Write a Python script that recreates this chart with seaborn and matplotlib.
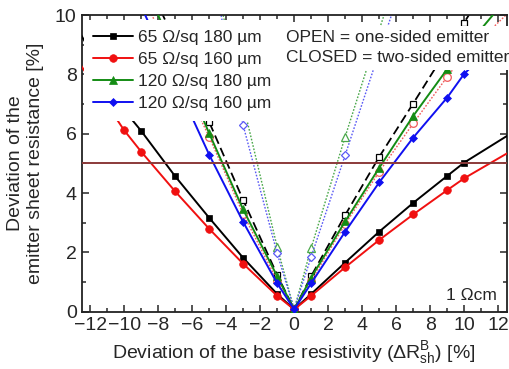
import numpy as np
import pandas as pd
import matplotlib
matplotlib.use("Agg")
import matplotlib.pyplot as plt
import seaborn as sns

sns.set_style("ticks")
plt.rcParams['font.family'] = ['Liberation Sans', 'DejaVu Sans']
plt.rcParams['mathtext.default'] = 'regular'

# ---- data ----
x_dev = [-13, -10, -9, -7, -5, -3, -1, 0, 1, 3, 5, 7, 9, 10, 13]

# closed (two-sided emitter), filled markers, solid lines
y_65_180 = [9.8, 6.8, 6.10, 4.57, 3.17, 1.82, 0.60, 0.08, 0.60, 1.66, 2.70, 3.67, 4.58, 5.03, 6.10]
y_65_160 = [8.7, 6.12, 5.40, 4.06, 2.80, 1.62, 0.54, 0.08, 0.54, 1.50, 2.42, 3.28, 4.10, 4.50, 5.50]
y_120_180 = [16.0, 12.6, 11.3, 8.7, 6.02, 3.45, 1.20, 0.08, 1.15, 3.05, 4.85, 6.60, 8.18, 8.85, 10.9]
y_120_160 = [14.5, 11.4, 10.3, 7.8, 5.30, 3.03, 0.96, 0.08, 0.96, 2.70, 4.36, 5.87, 7.22, 8.02, 9.70]

# open (one-sided emitter), open markers, dashed / dotted lines
yo_65_180 = [16.0, 12.8, 11.6, 9.1, 6.40, 3.77, 1.25, 0.08, 1.20, 3.26, 5.22, 7.02, 8.85, 9.75, 12.5]
yo_65_160 = [14.5, 11.8, 10.8, 8.3, 5.90, 3.30, 1.05, 0.08, 1.05, 2.95, 4.72, 6.35, 7.92, 8.65, 10.3]
yo_120_180 = [30.0, 24.0, 22.0, 17.0, 12.1, 7.00, 2.19, 0.08, 2.15, 5.90, 9.50, 13.0, 16.5, 18.2, 24.0]
yo_120_160 = [28.0, 22.0, 20.0, 16.0, 12.0, 6.29, 1.97, 0.08, 1.85, 5.28, 8.75, 12.2, 15.6, 17.3, 22.5]

labels = ["65 \u03a9/sq 180 \u00b5m", "65 \u03a9/sq 160 \u00b5m",
          "120 \u03a9/sq 180 \u00b5m", "120 \u03a9/sq 160 \u00b5m"]
threshold = 5.0
x_ticks = list(range(-12, 13, 2))
y_ticks = [0, 2, 4, 6, 8, 10]

colors = ["#000000", "#f01010", "#148c14", "#1010f0"]
open_colors = ["#000000", "#f05a5a", "#4aa84a", "#5a5af5"]
markers = ["s", "o", "^", "D"]
msizes = [5, 5.5, 5.5, 4.5]

fig = plt.figure(figsize=(5.1, 3.69), dpi=100)
ax = fig.add_axes([0.160, 0.155, 0.8335, 0.804])

closed = [y_65_180, y_65_160, y_120_180, y_120_160]
opened = [yo_65_180, yo_65_160, yo_120_180, yo_120_160]

# open series first (behind)
open_styles = [(0, (5, 2.5)), (0, (1.2, 1.2)), (0, (1.2, 1.2)), (0, (1.2, 1.2))]
open_lw = [1.3, 1.0, 1.0, 1.0]
for i in range(4):
    df = pd.DataFrame({"x": x_dev, "y": opened[i]})
    sns.lineplot(data=df, x="x", y="y", ax=ax, color=open_colors[i], marker=markers[i],
                 markersize=msizes[i], markerfacecolor="white", markeredgecolor=open_colors[i],
                 markeredgewidth=0.9, linestyle=open_styles[i], linewidth=open_lw[i],
                 estimator=None, sort=False, legend=False, zorder=2)

handles = []
for i in range(4):
    df = pd.DataFrame({"x": x_dev, "y": closed[i]})
    sns.lineplot(data=df, x="x", y="y", ax=ax, color=colors[i], marker=markers[i],
                 markersize=msizes[i], markeredgecolor=colors[i], markeredgewidth=0.5,
                 linewidth=1.4, estimator=None, sort=False, legend=False, zorder=3,
                 label=labels[i])
    handles.append(ax.lines[-1])

ax.axhline(threshold, color="#8b3a3a", linewidth=1.4, zorder=4)

ax.set_xlim(-12.5, 12.5)
ax.set_ylim(0, 10)
ax.set_xticks(x_ticks)
ax.set_yticks(y_ticks)
ax.set_xticks(np.arange(-12, 13, 1), minor=True)
ax.set_yticks(np.arange(0, 11, 1), minor=True)
ax.tick_params(which="both", direction="in", top=True, right=True, width=1.1, labelsize=14)
ax.tick_params(which="major", length=5)
ax.tick_params(which="minor", length=3)
for s in ax.spines.values():
    s.set_linewidth(1.3)
    s.set_color("#222222")

ax.set_xlabel("Deviation of the base resistivity (\u0394$\\mathregular{R^{B}_{sh}}$) [%]", fontsize=14, labelpad=4)
ax.set_ylabel("Deviation of the\nemitter sheet resistance [%]", fontsize=14, labelpad=8)

leg = ax.legend(handles=handles, labels=labels, loc="upper left", bbox_to_anchor=(0.005, 0.983),
                borderaxespad=0, frameon=True, fancybox=False, edgecolor="none", facecolor="white",
                framealpha=1, fontsize=12.5, handlelength=2.3, handletextpad=0.3,
                labelspacing=0.4, numpoints=1, borderpad=0.55)
leg.set_zorder(10)

ax.text(-0.5, 9.5, "OPEN = one-sided emitter\nCLOSED = two-sided emitter", fontsize=12.5,
        ha="left", va="top", linespacing=1.45, zorder=9,
        bbox=dict(facecolor="white", edgecolor="none", pad=3))
ax.text(11.95, 0.3, "1 \u03a9cm", fontsize=12.5, ha="right", va="bottom", zorder=9)

fig.savefig("out.png", dpi=100)
